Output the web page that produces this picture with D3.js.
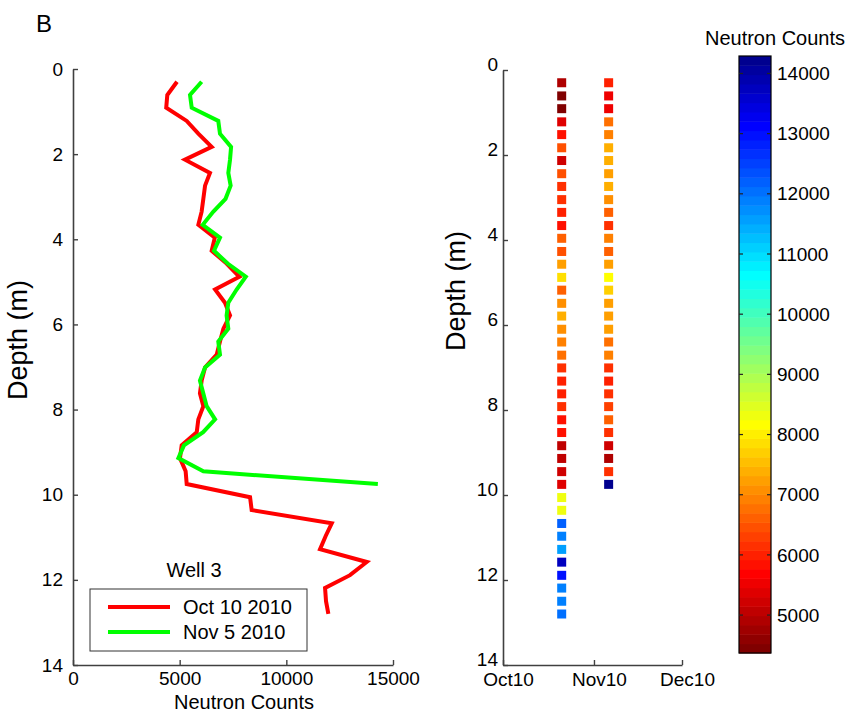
<!DOCTYPE html>
<html>
<head>
<meta charset="utf-8">
<script src="https://cdn.jsdelivr.net/npm/d3@7"></script>
<style>
  body { margin: 0; background: #fff; }
  text { font-family: "Liberation Sans", Arial, Helvetica, sans-serif; fill: #000; }
</style>
</head>
<body>
<script>
// depth of each reading (m), one foot apart
const depths = [0.30, 0.61, 0.91, 1.22, 1.52, 1.83, 2.13, 2.44, 2.74, 3.05,
  3.35, 3.66, 3.96, 4.27, 4.57, 4.88, 5.18, 5.49, 5.79, 6.10,
  6.40, 6.71, 7.01, 7.32, 7.62, 7.92, 8.23, 8.53, 8.84, 9.14,
  9.45, 9.75, 10.06, 10.36, 10.67, 10.97, 11.28, 11.58, 11.89, 12.19,
  12.50, 12.80];

const octCounts = [4875, 4420, 4370, 5330, 5875, 6500, 5250, 6420, 6190, 6110,
  6030, 5875, 6650, 6500, 7200, 7800, 6660, 7125, 7360, 7050,
  6890, 6735, 6190, 6030, 5950, 6110, 5875, 5800, 5095, 5015,
  5280, 5330, 8300, 8375, 12130, 11845, 11580, 13770, 12985, 11815,
  11860, 11970];

const novCounts = [6030, 5485, 5565, 6810, 6890, 7410, 7360, 7280, 7390, 7150,
  6580, 6080, 6890, 6610, 7250, 8100, 7670, 7280, 7200, 7280,
  6810, 6890, 6190, 5950, 6110, 6265, 6660, 6100, 5200, 4940,
  6110, 14290];

const seriesNames = ["Oct 10 2010", "Nov 5 2010"];
const seriesColors = ["#ff0000", "#00ff00"];
const columnDates = ["2010-10-21", "2010-11-06"];
const countTicks = [0, 5000, 10000, 15000];
const depthTicks = [0, 2, 4, 6, 8, 10, 12, 14];
const dateTicks = ["2010-10-01", "2010-11-01", "2010-12-01"];
const colorbarTicks = [5000, 6000, 7000, 8000, 9000, 10000, 11000, 12000, 13000, 14000];

const parseDate = d3.timeParse("%Y-%m-%d");
const series = [octCounts, novCounts];

const svg = d3.select("body").append("svg")
  .attr("width", 849)
  .attr("height", 713)
  .style("background", "#fff");

const axisColor = "#404040";

function styleAxis(g) {
  g.select(".domain").attr("stroke", axisColor).attr("stroke-width", 1.6);
  g.selectAll(".tick line").attr("stroke", axisColor).attr("stroke-width", 1.4);
  g.selectAll("text").style("font-size", "19px").attr("fill", "#000");
}

// ---------- left panel: profiles ----------
const x = d3.scaleLinear().domain([0, 15000]).range([73, 393]);
const y = d3.scaleLinear().domain([0, 14]).range([69, 665]);

svg.append("text").attr("x", 36).attr("y", 32).style("font-size", "24px").text("B");

svg.append("g")
  .attr("transform", "translate(73,0)")
  .call(d3.axisLeft(y).tickValues(depthTicks).tickSizeInner(-5).tickSizeOuter(0).tickPadding(10))
  .call(styleAxis);

svg.append("g")
  .attr("transform", "translate(0,665)")
  .call(d3.axisBottom(x).tickValues(countTicks).tickFormat(d3.format("d")).tickSizeInner(-5).tickSizeOuter(0).tickPadding(7))
  .call(styleAxis);

svg.append("text")
  .attr("transform", "translate(27,340) rotate(-90)")
  .attr("text-anchor", "middle")
  .style("font-size", "27px")
  .text("Depth (m)");

svg.append("text")
  .attr("x", 244).attr("y", 709)
  .attr("text-anchor", "middle")
  .style("font-size", "20px")
  .text("Neutron Counts");

const line = d3.line()
  .x(d => x(d[0]))
  .y(d => y(d[1]));

series.forEach((vals, i) => {
  svg.append("path")
    .datum(vals.map((v, j) => [v, depths[j]]))
    .attr("fill", "none")
    .attr("stroke", seriesColors[i])
    .attr("stroke-width", 4)
    .attr("stroke-linejoin", "miter")
    .attr("d", line);
});

// legend
svg.append("text").attr("x", 194).attr("y", 577)
  .attr("text-anchor", "middle").style("font-size", "20px").text("Well 3");
svg.append("rect")
  .attr("x", 90).attr("y", 589).attr("width", 217).attr("height", 62)
  .attr("fill", "#fff").attr("stroke", "#333").attr("stroke-width", 1);
seriesNames.forEach((name, i) => {
  const ly = 607 + i * 25;
  svg.append("line")
    .attr("x1", 108).attr("x2", 170).attr("y1", ly).attr("y2", ly)
    .attr("stroke", seriesColors[i]).attr("stroke-width", 4);
  svg.append("text")
    .attr("x", 183).attr("y", ly + 7)
    .style("font-size", "20px")
    .text(name);
});

// ---------- colour map (flipped jet, 64 levels) ----------
function jet64() {
  const m = 64, n = 16;
  const u = [];
  for (let i = 1; i <= n; i++) u.push(i / n);
  for (let i = 0; i < n - 1; i++) u.push(1);
  for (let i = n; i >= 1; i--) u.push(i / n);
  const r = new Array(m).fill(0), g = new Array(m).fill(0), b = new Array(m).fill(0);
  u.forEach((val, j) => {
    const gi = 8 + j + 1;
    if (gi + n >= 1 && gi + n <= m) r[gi + n - 1] = val;
    if (gi >= 1 && gi <= m) g[gi - 1] = val;
    if (gi - n >= 1 && gi - n <= m) b[gi - n - 1] = val;
  });
  return r.map((_, i) => d3.rgb(r[i] * 255, g[i] * 255, b[i] * 255).formatHex());
}
const cmap = jet64().reverse();
const allCounts = octCounts.concat(novCounts);
const cmin = d3.min(allCounts), cmax = d3.max(allCounts);
const colorIndex = d3.scaleQuantize().domain([cmin, cmax]).range(d3.range(64));
const colorOf = v => cmap[colorIndex(v)];

// ---------- right panel: squares ----------
const xt = d3.scaleTime()
  .domain([parseDate(dateTicks[0]), parseDate(dateTicks[2])])
  .range([503, 682]);
const y2 = d3.scaleLinear().domain([0, 14]).range([70, 665]);

const yAxis2 = svg.append("g")
  .attr("transform", "translate(503,0)")
  .call(d3.axisLeft(y2).tickValues(depthTicks).tickSizeInner(-5).tickSizeOuter(0).tickPadding(5))
  .call(styleAxis);
yAxis2.selectAll("text").attr("dy", "0.05em");

const xAxis2 = svg.append("g")
  .attr("transform", "translate(0,665)")
  .call(d3.axisBottom(xt).tickValues(dateTicks.map(parseDate)).tickFormat(d3.timeFormat("%b%y")).tickSizeInner(-5).tickSizeOuter(0).tickPadding(8))
  .call(styleAxis);
xAxis2.selectAll("text").attr("dx", 5);

svg.append("text")
  .attr("transform", "translate(465,291) rotate(-90)")
  .attr("text-anchor", "middle")
  .style("font-size", "27px")
  .text("Depth (m)");

const sq = 9;
series.forEach((vals, i) => {
  const cx = xt(parseDate(columnDates[i]));
  svg.append("g").selectAll("rect")
    .data(vals)
    .join("rect")
    .attr("x", cx - sq / 2)
    .attr("y", (d, j) => y2(depths[j]) - sq / 2)
    .attr("width", sq)
    .attr("height", sq)
    .attr("fill", d => colorOf(d));
});

// ---------- colorbar ----------
const cb = d3.scaleLinear().domain([cmin, cmax]).range([653, 56]);
const cbX = 739, cbW = 32;
const cbBands = d3.range(64);
svg.append("g").selectAll("rect")
  .data(cbBands)
  .join("rect")
  .attr("x", cbX)
  .attr("width", cbW)
  .attr("y", i => cb(cmin + (i + 1) / 64 * (cmax - cmin)))
  .attr("height", i => cb(cmin + i / 64 * (cmax - cmin)) - cb(cmin + (i + 1) / 64 * (cmax - cmin)) + 0.5)
  .attr("fill", i => cmap[i]);
svg.append("rect")
  .attr("x", cbX).attr("y", 56).attr("width", cbW).attr("height", 597)
  .attr("fill", "none").attr("stroke", "#000").attr("stroke-width", 1.2);

const cbTicks = svg.append("g");
colorbarTicks.forEach(v => {
  const ty = cb(v);
  cbTicks.append("line").attr("x1", cbX).attr("x2", cbX + 4).attr("y1", ty).attr("y2", ty)
    .attr("stroke", "#222").attr("stroke-width", 1.2);
  cbTicks.append("line").attr("x1", cbX + cbW - 4).attr("x2", cbX + cbW).attr("y1", ty).attr("y2", ty)
    .attr("stroke", "#222").attr("stroke-width", 1.2);
  cbTicks.append("text").attr("x", 777).attr("y", ty).attr("dy", "0.35em")
    .style("font-size", "19px").text(v);
});

svg.append("text")
  .attr("x", 775).attr("y", 45)
  .attr("text-anchor", "middle")
  .style("font-size", "20px")
  .text("Neutron Counts");
</script>
</body>
</html>
